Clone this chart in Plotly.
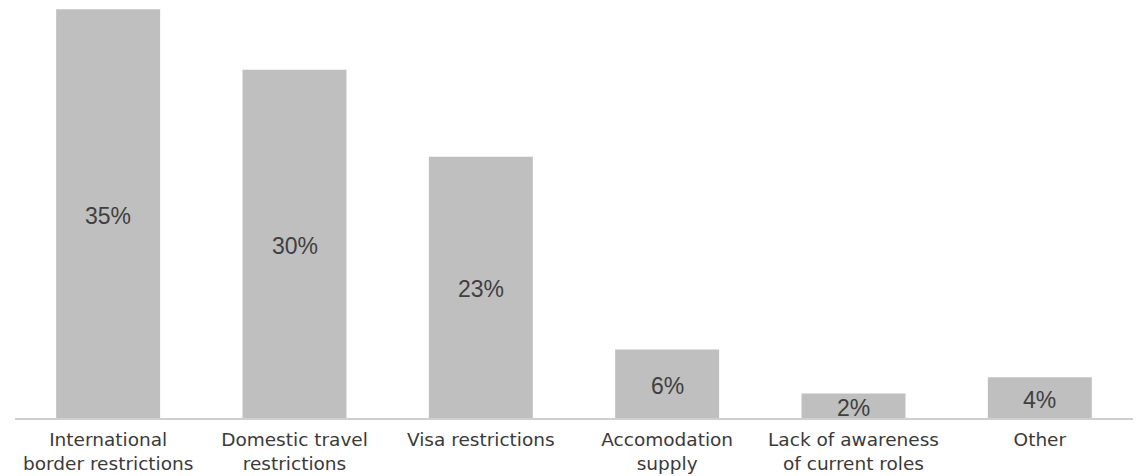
import plotly.graph_objects as go

categories = [
    "International<br>border restrictions",
    "Domestic travel<br>restrictions",
    "Visa restrictions",
    "Accomodation<br>supply",
    "Lack of awareness<br>of current roles",
    "Other",
]
values = [35.2, 30.0, 22.5, 5.9, 2.1, 3.5]
value_labels = ["35%", "30%", "23%", "6%", "2%", "4%"]

fig = go.Figure()
fig.add_trace(go.Bar(
    x=categories,
    y=values,
    marker=dict(color="#bfbfbf", line=dict(width=0)),
    hoverinfo="skip",
))

for c, v, t in zip(categories, values, value_labels):
    fig.add_annotation(
        x=c, y=v / 2, xref="x", yref="y", text=t, showarrow=False, yshift=-2,
        font=dict(family="Liberation Sans, Arial, sans-serif", size=23, color="#404040"),
    )

fig.update_layout(
    width=1141, height=476,
    margin=dict(l=15, r=8, t=0, b=58),
    paper_bgcolor="white", plot_bgcolor="white",
    bargap=0.442,
    showlegend=False,
    xaxis=dict(
        showline=True, linecolor="#cfcfcf", linewidth=2,
        showgrid=False, ticks="", ticklabelstandoff=4,
        tickfont=dict(family="DejaVu Sans, sans-serif", size=18.5, color="#3a3a3a"),
    ),
    yaxis=dict(
        range=[0, 36], visible=False, showgrid=False, zeroline=False,
    ),
)

fig.write_html("out.html")
